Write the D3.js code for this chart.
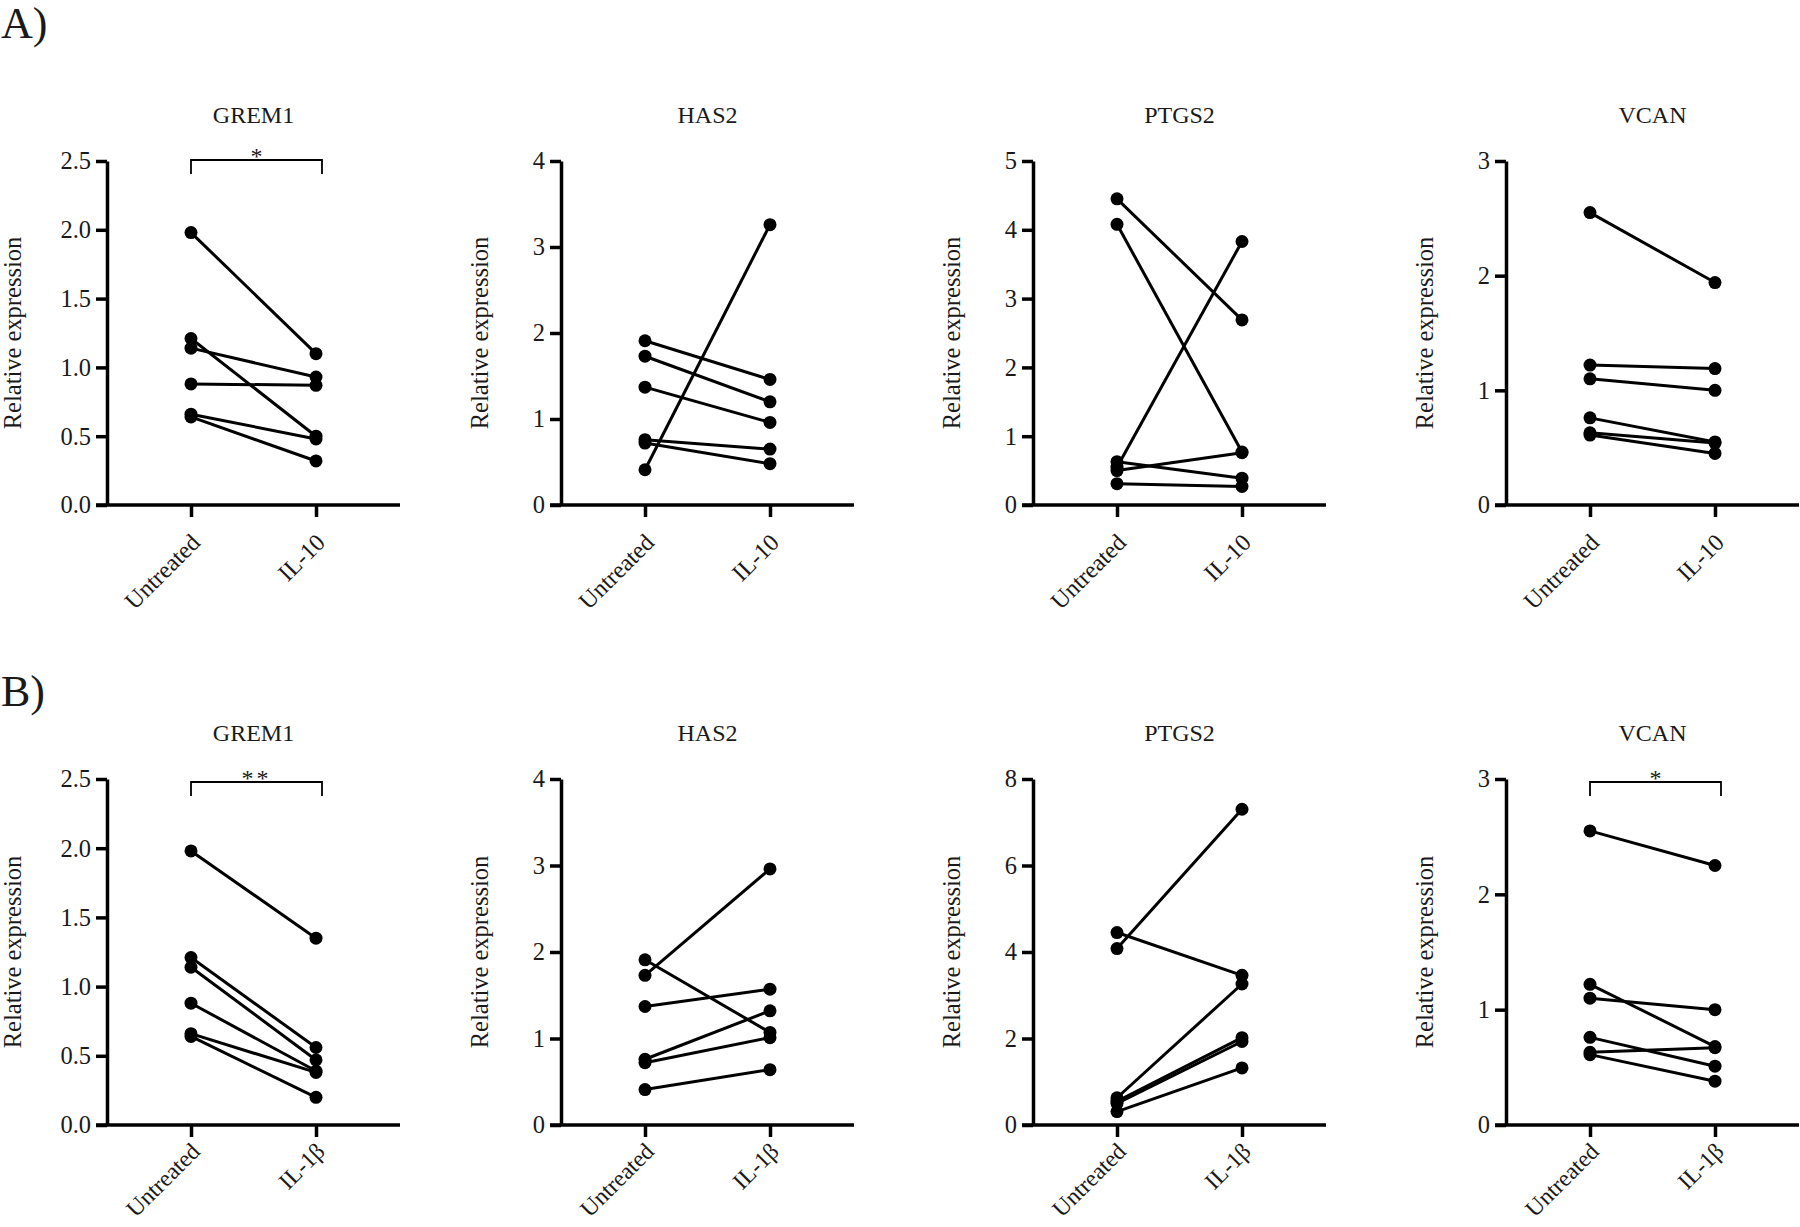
<!DOCTYPE html>
<html><head><meta charset="utf-8">
<script src="https://cdn.jsdelivr.net/npm/d3@7"></script>
<style>
body{margin:0;background:#fff}
text{font-family:"Liberation Serif","Times New Roman",serif;fill:#1a1a1a}
</style>
</head><body>
<svg id="chart" width="1800" height="1227"></svg>
<script>
// ---------- data ----------
const genes = ["GREM1", "HAS2", "PTGS2", "VCAN"];
const groupsA = ["Untreated", "IL-10"];
const groupsB = ["Untreated", "IL-1β"];

const untreatedGREM1 = [1.98, 1.21, 1.14, 0.88, 0.66, 0.64];
const il10GREM1      = [1.10, 0.50, 0.93, 0.87, 0.48, 0.32];
const il1bGREM1      = [1.35, 0.56, 0.47, 0.39, 0.38, 0.20];

const untreatedHAS2 = [1.91, 1.73, 1.37, 0.76, 0.72, 0.41];
const il10HAS2      = [1.46, 1.20, 0.96, 0.65, 0.48, 3.26];
const il1bHAS2      = [1.07, 2.96, 1.57, 1.32, 1.01, 0.64];

const untreatedPTGS2 = [4.45, 4.08, 0.63, 0.55, 0.50, 0.31];
const il10PTGS2      = [2.69, 0.77, 0.39, 3.83, 0.76, 0.27];
const il1bPTGS2      = [3.46, 7.30, 3.26, 2.02, 1.93, 1.32];

const untreatedVCAN = [2.55, 1.22, 1.10, 0.76, 0.63, 0.61];
const il10VCAN      = [1.94, 1.19, 1.00, 0.55, 0.54, 0.45];
const il1bVCAN      = [2.25, 0.68, 1.00, 0.51, 0.67, 0.38];

const ticksA = [[0, 0.5, 1, 1.5, 2, 2.5], [0, 1, 2, 3, 4], [0, 1, 2, 3, 4, 5], [0, 1, 2, 3]];
const ticksB = [[0, 0.5, 1, 1.5, 2, 2.5], [0, 1, 2, 3, 4], [0, 2, 4, 6, 8], [0, 1, 2, 3]];
const sigA = ["*", "", "", ""];
const sigB = ["**", "", "", "*"];
const rowLabels = ["A)", "B)"];
const yLabel = "Relative expression";

// ---------- layout ----------
const svg = d3.select("#chart");
const axisXs = [107, 561, 1033, 1506];
const yLabelXs = [21, 488, 960, 1433];
const rows = [
  {top: 161, base: 505, groups: groupsA, ticks: ticksA, sig: sigA, brOff: -1, labelY: 38, xlOff: 33, xlFs: 24,
   before: [untreatedGREM1, untreatedHAS2, untreatedPTGS2, untreatedVCAN],
   after: [il10GREM1, il10HAS2, il10PTGS2, il10VCAN]},
  {top: 779, base: 1125, groups: groupsB, ticks: ticksB, sig: sigB, brOff: 3, labelY: 706, xlOff: 22, xlFs: 23.5,
   before: [untreatedGREM1, untreatedHAS2, untreatedPTGS2, untreatedVCAN],
   after: [il1bGREM1, il1bHAS2, il1bPTGS2, il1bVCAN]}
];

rows.forEach((row, ri) => {
  svg.append("text").attr("x", 1).attr("y", row.labelY)
    .style("font-size", "44px").text(rowLabels[ri]);

  genes.forEach((gene, gi) => {
    const ax = axisXs[gi];
    const ticks = row.ticks[gi];
    const g = svg.append("g");
    const x = d3.scalePoint().domain(row.groups).range([ax + 84, ax + 209]);
    const y = d3.scaleLinear().domain([0, d3.max(ticks)]).range([row.base, row.top]);
    const fmt = gi === 0 ? d3.format(".1f") : d3.format("d");

    // title
    g.append("text").attr("x", ax + 146.5).attr("y", row.top - 38)
      .attr("text-anchor", "middle").style("font-size", "24px").text(gene);

    // y axis
    const ya = g.append("g").attr("transform", `translate(${ax},0)`)
      .call(d3.axisLeft(y).tickValues(ticks).tickFormat(fmt).tickSize(11).tickSizeOuter(0).tickPadding(5));
    ya.select(".domain").attr("stroke", "#000").attr("stroke-width", 3.5);
    ya.selectAll(".tick line").attr("stroke", "#000").attr("stroke-width", 3.5);
    ya.selectAll(".tick text").style("font-size", "24.5px").attr("font-family", null).attr("fill", null);

    // y label
    g.append("text")
      .attr("transform", `translate(${yLabelXs[gi]},${(row.base + row.top) / 2}) rotate(-90)`)
      .attr("text-anchor", "middle").style("font-size", "24.5px").text(yLabel);

    // x axis
    const xa = g.append("g").attr("transform", `translate(0,${row.base})`)
      .call(d3.axisBottom(x).tickSize(12).tickSizeOuter(0));
    xa.select(".domain").remove();
    xa.selectAll(".tick line").attr("stroke", "#000").attr("stroke-width", 3.5);
    xa.selectAll(".tick text").style("font-size", row.xlFs + "px").attr("fill", null)
      .attr("text-anchor", "end").attr("x", 0).attr("y", 0).attr("dy", "0.35em")
      .attr("transform", `translate(4,${row.xlOff}) rotate(-45)`);
    xa.append("line").attr("x1", ax - 11).attr("x2", ax + 293).attr("y1", 0).attr("y2", 0)
      .attr("stroke", "#000").attr("stroke-width", 3.5);

    // paired lines
    const before = row.before[gi], after = row.after[gi];
    const pairs = before.map((b, i) => [b, after[i]]);
    g.selectAll(".pair").data(pairs).enter().append("line")
      .attr("x1", x(row.groups[0])).attr("x2", x(row.groups[1]))
      .attr("y1", d => y(d[0])).attr("y2", d => y(d[1]))
      .attr("stroke", "#000").attr("stroke-width", 3);
    const pts = [];
    pairs.forEach(p => { pts.push([row.groups[0], p[0]]); pts.push([row.groups[1], p[1]]); });
    g.selectAll(".dot").data(pts).enter().append("circle")
      .attr("cx", d => x(d[0])).attr("cy", d => y(d[1])).attr("r", 6.5).attr("fill", "#000");

    // significance bracket
    const s = row.sig[gi];
    if (s) {
      const yb = row.top + row.brOff;
      const x0 = x(row.groups[0]), x1 = ax + 215;
      g.append("path").attr("d", `M${x0},${yb + 14}V${yb}H${x1}V${yb + 14}`)
        .attr("fill", "none").attr("stroke", "#000").attr("stroke-width", 1.8);
      g.append("text").attr("x", (x0 + x1) / 2).attr("y", yb + 4)
        .attr("text-anchor", "middle").style("font-size", "24px")
        .style("letter-spacing", s.length > 1 ? "3px" : "0").text(s);
    }
  });
});
</script>
</body></html>
